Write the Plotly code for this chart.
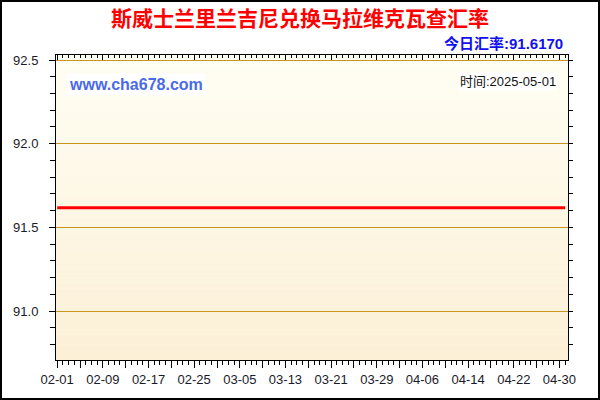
import plotly.graph_objects as go
import pandas as pd

# ---- data ----
start_date = "2025-02-01"
end_date = "2025-05-01"
dates = pd.date_range(start_date, end_date, freq="D")
rates = [
    91.617, 91.617, 91.617, 91.617, 91.617, 91.617, 91.617, 91.617, 91.617, 91.617,
    91.617, 91.617, 91.617, 91.617, 91.617, 91.617, 91.617, 91.617, 91.617, 91.617,
    91.617, 91.617, 91.617, 91.617, 91.617, 91.617, 91.617, 91.617, 91.617, 91.617,
    91.617, 91.617, 91.617, 91.617, 91.617, 91.617, 91.617, 91.617, 91.617, 91.617,
    91.617, 91.617, 91.617, 91.617, 91.617, 91.617, 91.617, 91.617, 91.617, 91.617,
    91.617, 91.617, 91.617, 91.617, 91.617, 91.617, 91.617, 91.617, 91.617, 91.617,
    91.617, 91.617, 91.617, 91.617, 91.617, 91.617, 91.617, 91.617, 91.617, 91.617,
    91.617, 91.617, 91.617, 91.617, 91.617, 91.617, 91.617, 91.617, 91.617, 91.617,
    91.617, 91.617, 91.617, 91.617, 91.617, 91.617, 91.617, 91.617, 91.617, 91.617,
]
x_labels = ["02-01", "02-09", "02-17", "02-25", "03-05", "03-13",
            "03-21", "03-29", "04-06", "04-14", "04-22", "04-30"]
y_ticks = [91.0, 91.5, 92.0, 92.5]
title_text = "斯威士兰里兰吉尼兑换马拉维克瓦查汇率"
today_label = "今日汇率:"
site_text = "www.cha678.com"
time_text = "时间:2025-05-01"

# ---- layout geometry ----
W, H = 600, 400
ML, MR, MT, MB = 56, 32, 55, 40
PW, PH = W - ML - MR, H - MT - MB

def px_x(x):
    return (x - ML) / PW

def px_y(y):
    return (H - MB - y) / PH

x_range = ["2025-01-31 19:00", "2025-05-01 12:00"]
y_range = [90.708, 92.53]

tick_dates = pd.date_range(start_date, "2025-04-30", freq="4D")
label_set = set(x_labels)
tick_text = [d.strftime("%m-%d") if d.strftime("%m-%d") in label_set else "" for d in tick_dates]

fig = go.Figure()
fig.add_trace(go.Scatter(x=dates, y=rates, mode="lines",
                         line=dict(color="#FF0000", width=3),
                         showlegend=False, hoverinfo="skip"))
fig.add_trace(go.Scatter(x=dates, y=rates, mode="lines", xaxis="x2", yaxis="y2",
                         line=dict(width=0, color="rgba(0,0,0,0)"),
                         showlegend=False, hoverinfo="skip"))

# gradient background stripes
shapes = []
N = 60
top_c = (255, 254, 244)
bot_c = (252, 240, 214)
for i in range(N):
    t = i / (N - 1)
    c = tuple(round(top_c[k] + (bot_c[k] - top_c[k]) * t) for k in range(3))
    shapes.append(dict(type="rect", xref="paper", yref="paper",
                       x0=0, x1=1, y0=1 - (i + 1) / N, y1=1 - i / N + 0.001,
                       fillcolor="rgb(%d,%d,%d)" % c, line=dict(width=0), layer="below"))
# outer frame
shapes.append(dict(type="rect", xref="paper", yref="paper",
                   x0=px_x(1), x1=px_x(W - 1), y0=px_y(H - 1), y1=px_y(1),
                   line=dict(color="black", width=2), fillcolor="rgba(0,0,0,0)", layer="above"))

tickfont = dict(family="Liberation Sans, Arial", size=13, color="#1a1a2a")
grid_col = "#C8961E"

fig.update_layout(
    template="none",
    width=W, height=H,
    margin=dict(l=ML, r=MR, t=MT, b=MB),
    paper_bgcolor="white",
    plot_bgcolor="rgba(0,0,0,0)",
    shapes=shapes,
    title=dict(text=title_text, xref="container", yref="container",
               x=0.5, y=1 - 19 / H, xanchor="center", yanchor="middle",
               font=dict(family="Noto Sans CJK SC", size=21, color="#FF0000", weight="bold")),
    xaxis=dict(range=x_range, type="date", tickmode="array",
               tickvals=tick_dates, ticktext=tick_text,
               ticks="outside", ticklen=7, tickcolor="black", tickwidth=1,
               showline=True, linecolor="black", linewidth=1,
               showgrid=False, zeroline=False, tickfont=tickfont,
               minor=dict(dtick=86400000, tick0=start_date, ticks="outside",
                          ticklen=4, tickcolor="black", showgrid=False)),
    xaxis2=dict(range=x_range, type="date", overlaying="x", side="top", anchor="y",
                tickmode="array", tickvals=tick_dates, ticktext=tick_text,
                ticks="inside", ticklen=5, tickcolor="black", showticklabels=False,
                showline=True, linecolor="black", linewidth=1, showgrid=False, zeroline=False,
                minor=dict(dtick=86400000, tick0=start_date, ticks="inside",
                           ticklen=3, tickcolor="black", showgrid=False)),
    yaxis=dict(range=y_range, tickmode="array", tickvals=y_ticks, tickformat=".1f",
               ticks="outside", ticklen=6, tickcolor="black", ticklabelstandoff=8,
               showline=True, linecolor="black", linewidth=1,
               showgrid=True, gridcolor=grid_col, gridwidth=1, zeroline=False,
               tickfont=tickfont,
               minor=dict(dtick=0.1, tick0=91.0, ticks="outside", ticklen=5,
                          tickcolor="black", showgrid=False)),
    yaxis2=dict(range=y_range, overlaying="y", side="right", anchor="x",
                tickmode="linear", tick0=91.0, dtick=0.1,
                ticks="outside", ticklen=4, tickcolor="black", showticklabels=False,
                showline=True, linecolor="black", linewidth=1, showgrid=False, zeroline=False),
    annotations=[
        dict(text=f"{today_label}{rates[-1]:.4f}", xref="paper", yref="paper",
             x=px_x(565), y=px_y(43), xanchor="right", yanchor="middle", showarrow=False,
             font=dict(family="Liberation Sans, Noto Sans CJK SC", size=15,
                       color="#1010F0", weight="bold")),
        dict(text=site_text, xref="paper", yref="paper",
             x=px_x(66), y=px_y(84), xanchor="left", yanchor="middle", showarrow=False,
             bgcolor="white", borderpad=2,
             font=dict(family="Liberation Sans, Arial", size=16,
                       color="#4A6AE8", weight="bold")),
        dict(text=time_text, xref="paper", yref="paper",
             x=px_x(558), y=px_y(81), xanchor="right", yanchor="middle", showarrow=False,
             bgcolor="white", borderpad=1,
             font=dict(family="Liberation Sans, Noto Sans CJK SC", size=13, color="#111111")),
    ],
)

fig.write_html("out.html", config={"displayModeBar": False},
               post_script="document.body.style.margin='0';document.body.style.padding='0';")
